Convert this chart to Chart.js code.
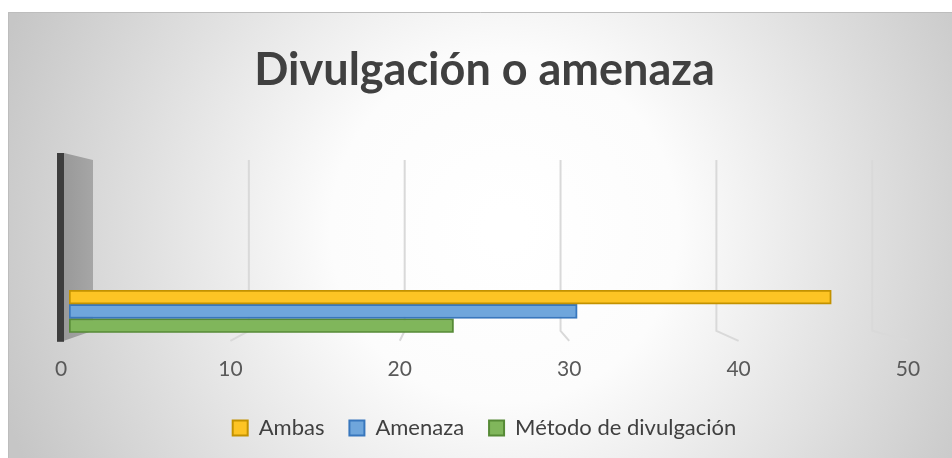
<!DOCTYPE html>
<html>
<head>
<meta charset="utf-8">
<script src="https://cdn.jsdelivr.net/npm/chart.js@4/dist/chart.umd.min.js"></script>
<style>
  html, body { margin: 0; padding: 0; background: #fff; }
  #wrap { width: 952px; height: 458px; }
</style>
</head>
<body>
<div id="wrap"><canvas id="chart" width="952" height="458"></canvas></div>
<script>
// data
const categories = ['Total'];
const seriesNames = ['Ambas', 'Amenaza', 'Método de divulgación'];
const ambas = [45];
const amenaza = [30];
const metodo = [22.7];
const xTicks = [0, 10, 20, 30, 40, 50];

const fills = ['#fdc424', '#6fa6dc', '#80b65b'];
const borders = ['#c39200', '#3877bd', '#568a36'];
const depthShift = 8; // bars sit a little in front of the floor axis

// grey radial backdrop like the Excel chart area
const backdrop = {
  id: 'backdrop',
  beforeDraw(chart) {
    const c = chart.ctx;
    const w = chart.width, h = chart.height;
    c.save();
    c.fillStyle = '#ffffff';
    c.fillRect(0, 0, w, h);
    const g = c.createRadialGradient(w * 0.53, h * 0.5, 20, w * 0.53, h * 0.5, w * 0.56);
    g.addColorStop(0, '#ffffff');
    g.addColorStop(0.3, '#fcfcfc');
    g.addColorStop(1, '#c6c6c6');
    c.fillStyle = g;
    c.fillRect(8, 12, w - 8, h - 12);
    c.strokeStyle = '#bdbdbd';
    c.lineWidth = 1;
    c.beginPath();
    c.moveTo(8.5, h);
    c.lineTo(8.5, 12.5);
    c.lineTo(w, 12.5);
    c.stroke();
    c.restore();
  }
};

// back wall, side wall and gridlines of the 3D frame, from the x scale
const walls = {
  id: 'walls',
  beforeDatasetsDraw(chart) {
    const c = chart.ctx;
    const xs = chart.scales.x;
    const area = chart.chartArea;
    const x0 = xs.getPixelForValue(0);
    const xw = x0 + 5;
    const top = area.top - 130;
    const bottom = area.bottom - 2;
    const back = v => xw + 27 + (xs.getPixelForValue(v) - x0) * 0.92;
    c.save();
    // side wall
    const sg = c.createLinearGradient(xw, 0, xw + 27, 0);
    sg.addColorStop(0, '#9a9a9a');
    sg.addColorStop(1, '#a6a6a6');
    c.fillStyle = sg;
    c.beginPath();
    c.moveTo(xw - 2, top - 7);
    c.lineTo(back(0), top);
    c.lineTo(back(0), bottom);
    c.lineTo(xw - 2, bottom + 10);
    c.closePath();
    c.fill();
    // dark edge
    c.fillStyle = '#3d3d3d';
    c.fillRect(xw - 9, top - 7, 7, bottom - top + 18);
    // gridlines
    c.strokeStyle = '#d9d9d9';
    c.lineWidth = 2;
    xTicks.slice(1).forEach(v => {
      const bx = back(v);
      c.beginPath();
      c.moveTo(bx, top);
      c.lineTo(bx, bottom);
      c.lineTo(xs.getPixelForValue(v), bottom + 10);
      c.stroke();
    });
    c.restore();
    // shift the bars forward
    c.save();
    c.translate(depthShift, 0);
  },
  afterDatasetsDraw(chart) {
    chart.ctx.restore();
  }
};

const data = {
  labels: categories,
  datasets: [ambas, amenaza, metodo].map((vals, i) => ({
    label: seriesNames[i],
    data: vals,
    backgroundColor: fills[i],
    borderColor: borders[i],
    borderWidth: 2,
    borderSkipped: false,
    categoryPercentage: 1,
    barPercentage: 1
  }))
};

new Chart(document.getElementById('chart'), {
  type: 'bar',
  data: data,
  options: {
    indexAxis: 'y',
    responsive: false,
    animation: false,
    layout: { padding: { left: 61, right: 44, top: 0, bottom: 9 } },
    plugins: {
      title: {
        display: true,
        text: 'Divulgación o amenaza',
        color: '#404040',
        font: { family: 'Lato', size: 45, weight: 'bold', lineHeight: 1.2 },
        padding: { top: 43, bottom: 193 }
      },
      legend: {
        position: 'bottom',
        labels: {
          color: '#404040',
          font: { family: 'Lato', size: 22 },
          boxWidth: 15,
          boxHeight: 15,
          padding: 25
        }
      },
      tooltip: { enabled: false }
    },
    scales: {
      x: {
        min: 0,
        max: 50,
        afterBuildTicks: axis => { axis.ticks = xTicks.map(v => ({ value: v })); },
        afterFit: axis => { axis.height -= 14; },
        grid: { display: false, drawTicks: false },
        border: { display: false },
        ticks: {
          color: '#595959',
          font: { family: 'Lato', size: 21, lineHeight: 1.2 },
          padding: 24
        }
      },
      y: { display: false }
    }
  },
  plugins: [backdrop, walls]
});
</script>
</body>
</html>
